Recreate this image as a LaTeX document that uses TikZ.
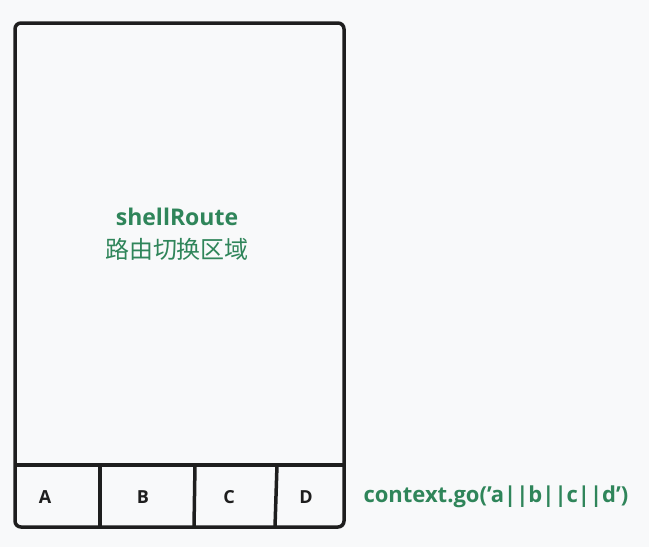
\documentclass[tikz,border=0pt]{standalone}
\usepackage{fontspec}
\setmainfont{Open Sans}
\newfontfamily\cjk{Noto Sans CJK SC}
\definecolor{bg}{HTML}{F8F9FA}
\definecolor{ink}{HTML}{1E1E1E}
\definecolor{routegreen}{HTML}{2F855A}

\tikzset{
  frame/.style={ink, line width=3.5pt},
  tablabel/.style={ink, font=\bfseries\fontsize{18}{20}\selectfont},
  greentext/.style={routegreen, align=center}
}

\begin{document}
\begin{tikzpicture}[x=1pt,y=-1pt]

  \fill[bg] (0,0) rectangle (649,547);

  % phone outline
  \draw[frame, rounded corners=6pt] (15,23) rectangle (344,527);
  \draw[frame] (15,465) -- (344,465);

  % tab dividers
  \draw[frame] (100,465) -- (100,527);
  \draw[frame] (195,465) -- (194,527);
  \draw[frame] (277,465) -- (275,527);

  \node[greentext, font=\bfseries\fontsize{23}{26}\selectfont] (route) at (177,217) {shellRoute};
  \node[greentext, font=\cjk\fontsize{24}{28}\selectfont] (area) at (177,249) {路由切换区域};

  \node[tablabel] (tabA) at (45,497) {A};
  \node[tablabel] (tabB) at (143,497) {B};
  \node[tablabel] (tabC) at (229,497) {C};
  \node[tablabel] (tabD) at (306,497) {D};

  \node[greentext, font=\bfseries\fontsize{22}{24}\selectfont, anchor=west] (go) at (360,497) {context.go('a||b||c||d')};

\end{tikzpicture}
\end{document}
